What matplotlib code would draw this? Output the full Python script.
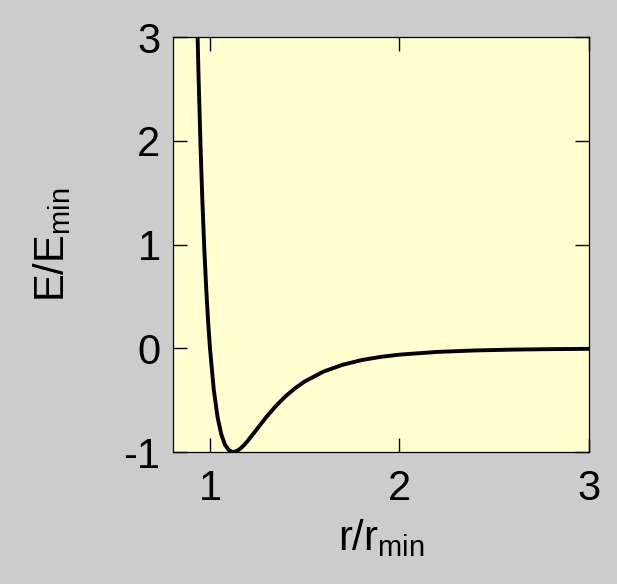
import matplotlib
matplotlib.use("Agg")
import matplotlib.pyplot as plt

plt.rcParams['font.family'] = ['Liberation Sans', 'DejaVu Sans']
plt.rcParams['mathtext.fontset'] = 'custom'
plt.rcParams['mathtext.rm'] = 'Liberation Sans'
plt.rcParams['mathtext.default'] = 'regular'
plt.rcParams['axes.unicode_minus'] = False

# points (r/r_min, E/E_min)
r_vals = [0.93, 0.94, 0.95, 0.96, 0.97, 0.98, 0.99, 1.00, 1.02, 1.04,
          1.06, 1.08, 1.10, 1.12, 1.14, 1.16, 1.18, 1.20, 1.25, 1.30,
          1.35, 1.40, 1.45, 1.50, 1.60, 1.70, 1.80, 1.90, 2.00, 2.20,
          2.40, 2.60, 2.80, 3.00]
e_vals = [3.373, 2.606, 1.961, 1.418, 0.963, 0.582, 0.264, 0.0, -0.398, -0.663,
          -0.832, -0.932, -0.983, -1.000, -0.992, -0.968, -0.933, -0.891, -0.774, -0.657,
          -0.552, -0.461, -0.384, -0.320, -0.224, -0.159, -0.114, -0.083, -0.0615, -0.035,
          -0.0208, -0.0129, -0.0083, -0.0055]

x_ticks = [1, 2, 3]
y_ticks = [-1, 0, 1, 2, 3]

fig = plt.figure(figsize=(6.17, 5.84), dpi=100, facecolor='#cccccc')
ax = fig.add_axes([0.2804, 0.226, 0.6742, 0.7106])
ax.set_facecolor('#ffffd0')

ax.plot(r_vals, e_vals, color='black', linewidth=2.8, solid_joinstyle='round')

ax.set_xlim(0.805, 3)
ax.set_ylim(-1, 3)
ax.set_xticks(x_ticks)
ax.set_yticks(y_ticks)
ax.tick_params(direction='in', length=10, width=1, labelsize=30,
               top=True, right=True, pad=9)
ax.tick_params(axis='x', pad=12)
for s in ax.spines.values():
    s.set_linewidth(0.9)

ax.set_xlabel('r/r$_{min}$', fontsize=30, labelpad=6)
ax.set_ylabel('E/E$_{min}$', fontsize=30, labelpad=36)

fig.savefig('out.png', dpi=100, facecolor=fig.get_facecolor())
